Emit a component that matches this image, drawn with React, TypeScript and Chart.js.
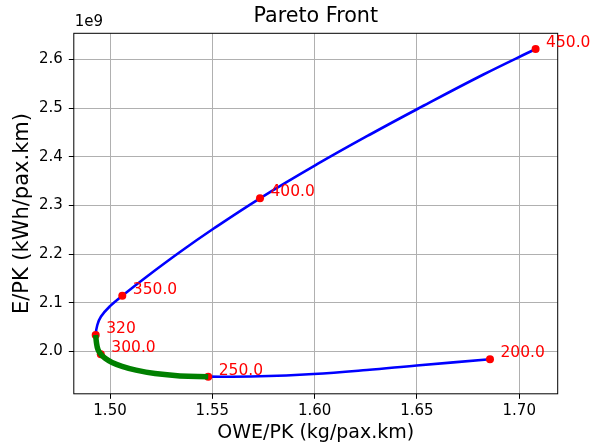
import React, { useEffect, useRef } from "react";
import { Chart, registerables } from "chart.js";

Chart.register(...registerables);

// Full Pareto front (parameter 200 -> 450)
const curveX = [
  1.6857, 1.6499, 1.6255, 1.5994, 1.5733, 1.548,
  1.5342, 1.522, 1.5127, 1.5059, 1.501, 1.4976, 1.4955, 1.4941, 1.4934, 1.493,
  1.4938, 1.4956, 1.5, 1.506, 1.5179, 1.5342, 1.5505, 1.5733, 1.601, 1.6271, 1.6507, 1.6825, 1.708,
];
const curveY = [
  1.984, 1.9713, 1.962, 1.9538, 1.9491, 1.9483,
  1.9499, 1.9546, 1.9616, 1.9696, 1.9774, 1.986, 1.9943, 2.0041, 2.0175, 2.0339,
  2.0544, 2.0719, 2.093, 2.1146, 2.1536, 2.2043, 2.252, 2.3146, 2.384, 2.4456, 2.499, 2.5688, 2.6211,
];

// Highlighted section (250 -> 320)
const greenX = [1.548, 1.5342, 1.522, 1.5127, 1.5059, 1.501, 1.4976, 1.4955, 1.4941, 1.4934, 1.493];
const greenY = [1.9483, 1.9499, 1.9546, 1.9616, 1.9696, 1.9774, 1.986, 1.9943, 2.0041, 2.0175, 2.0339];

// Labelled points
const markerLabels = ["200.0", "250.0", "300.0", "320", "350.0", "400.0", "450.0"];
const markerX = [1.6857, 1.548, 1.4955, 1.493, 1.506, 1.5733, 1.708];
const markerY = [1.984, 1.9483, 1.9943, 2.0339, 2.1146, 2.3146, 2.6211];

const xTicks = [1.5, 1.55, 1.6, 1.65, 1.7];
const yTicks = [2.0, 2.1, 2.2, 2.3, 2.4, 2.5, 2.6];
const yScaleFactor = 1e9;

const FONT = "'DejaVu Sans', sans-serif";

export default function App() {
  const ref = useRef<HTMLCanvasElement | null>(null);

  useEffect(() => {
    document.body.style.margin = "0";
    const canvas = ref.current;
    if (!canvas) return;

    const toPts = (xs: number[], ys: number[]) =>
      xs.map((x, i) => ({ x, y: ys[i] * yScaleFactor }));

    const decorations = {
      id: "decorations",
      afterDraw(chart: any) {
        const ctx = chart.ctx;
        const area = chart.chartArea;
        const xs = chart.scales.x;
        const ys = chart.scales.y;
        ctx.save();
        // frame
        ctx.strokeStyle = "#000";
        ctx.lineWidth = 1;
        ctx.strokeRect(area.left, area.top, area.right - area.left, area.bottom - area.top);
        // point labels
        ctx.fillStyle = "#ff0000";
        ctx.font = `15.5px ${FONT}`;
        ctx.textAlign = "left";
        ctx.textBaseline = "middle";
        markerLabels.forEach((t, i) => {
          const px = xs.getPixelForValue(markerX[i]);
          const py = ys.getPixelForValue(markerY[i] * yScaleFactor);
          ctx.fillText(t, px + 10.5, py - 6);
        });
        // title
        ctx.fillStyle = "#000";
        ctx.font = `20.7px ${FONT}`;
        ctx.textAlign = "center";
        ctx.fillText("Pareto Front", (area.left + area.right) / 2, 17);
        // offset text
        ctx.font = `15px ${FONT}`;
        ctx.textAlign = "left";
        ctx.fillText("1e9", area.left + 1, 22.5);
        ctx.restore();
      },
    };

    const chart = new Chart(canvas, {
      type: "scatter",
      data: {
        datasets: [
          {
            data: toPts(curveX, curveY),
            showLine: true,
            borderColor: "#0000ff",
            borderWidth: 2.6,
            pointRadius: 0,
            tension: 0.4,
            fill: false,
            order: 3,
          },
          {
            data: toPts(markerX, markerY),
            showLine: false,
            pointRadius: 4,
            pointBackgroundColor: "#ff0000",
            pointBorderWidth: 0,
            order: 2,
          },
          {
            data: toPts(greenX, greenY),
            showLine: true,
            borderColor: "#008000",
            borderWidth: 5.5,
            pointRadius: 0,
            tension: 0.4,
            fill: false,
            order: 1,
          },
        ],
      },
      options: {
        animation: false,
        responsive: false,
        devicePixelRatio: 1,
        layout: { padding: { left: 0, top: 33.3, right: 42.3, bottom: 0 } },
        plugins: {
          legend: { display: false },
          tooltip: { enabled: false },
          title: { display: false },
        },
        scales: {
          x: {
            type: "linear",
            min: 1.4823,
            max: 1.7188,
            afterBuildTicks: (axis: any) => {
              axis.ticks = xTicks.map((v) => ({ value: v }));
            },
            afterFit: (axis: any) => {
              axis.height = 50.2;
            },
            ticks: {
              callback: (v: any) => Number(v).toFixed(2),
              font: { family: FONT, size: 15 },
              color: "#000",
              padding: 3,
              maxRotation: 0,
              autoSkip: false,
            },
            grid: { color: "#b0b0b0", lineWidth: 1, tickLength: 5, tickColor: "#000", drawTicks: true },
            border: { display: false },
            title: {
              display: true,
              text: "OWE/PK (kg/pax.km)",
              font: { family: FONT, size: 19 },
              color: "#000",
              padding: { top: 0, bottom: 0 },
            },
          },
          y: {
            type: "linear",
            min: 1.9131 * yScaleFactor,
            max: 2.6534 * yScaleFactor,
            afterBuildTicks: (axis: any) => {
              axis.ticks = yTicks.map((v) => ({ value: v * yScaleFactor }));
            },
            afterFit: (axis: any) => {
              axis.width = 73.8;
            },
            ticks: {
              callback: (v: any) => (Number(v) / yScaleFactor).toFixed(1),
              font: { family: FONT, size: 15 },
              color: "#000",
              padding: 6,
              autoSkip: false,
            },
            grid: { color: "#b0b0b0", lineWidth: 1, tickLength: 5, tickColor: "#000", drawTicks: true },
            border: { display: false },
            title: {
              display: true,
              text: "E/PK (kWh/pax.km)",
              font: { family: FONT, size: 21 },
              color: "#000",
              padding: { top: 9.9, bottom: 0 },
            },
          },
        },
      },
      plugins: [decorations],
    });

    return () => chart.destroy();
  }, []);

  return (
    <div style={{ width: 600, height: 444 }}>
      <canvas ref={ref} width={600} height={444} style={{ display: "block" }} />
    </div>
  );
}
